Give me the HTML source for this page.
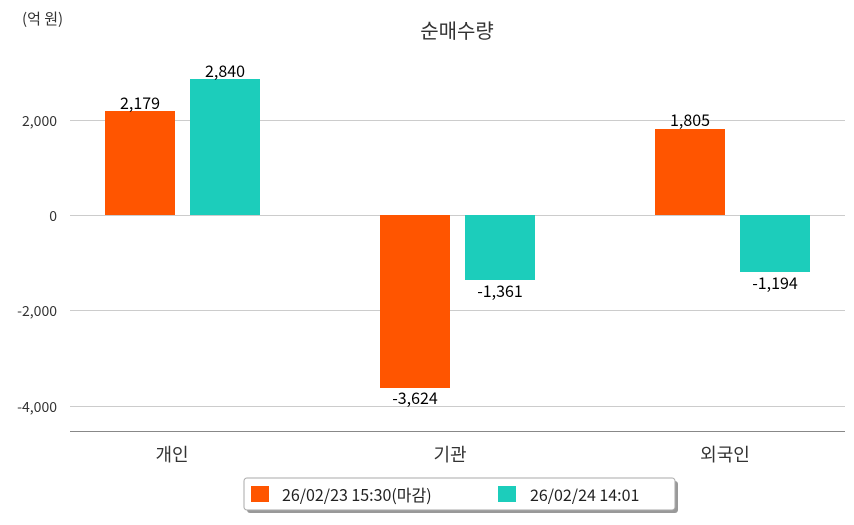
<!DOCTYPE html>
<html><head><meta charset="utf-8"><style>
body{margin:0;width:854px;height:520px;background:#fff;overflow:hidden;font-family:"Noto Sans CJK KR",sans-serif}
</style></head><body>
<svg width="854" height="520" xmlns="http://www.w3.org/2000/svg" font-family="Noto Sans CJK KR, sans-serif">
<text x="22" y="24" font-size="15" fill="#333">(억 원)</text>
<text x="457" y="38" font-size="20" fill="#333" text-anchor="middle">순매수량</text>
<g stroke="#ccc" stroke-width="1">
<line x1="70" y1="120.5" x2="845" y2="120.5"/>
<line x1="70" y1="215.5" x2="845" y2="215.5"/>
<line x1="70" y1="310.5" x2="845" y2="310.5"/>
<line x1="70" y1="406.5" x2="845" y2="406.5"/>
</g>
<line x1="70" y1="431.5" x2="845" y2="431.5" stroke="#888" stroke-width="1"/>
<g font-size="14" fill="#333" text-anchor="end">
<text x="57" y="126">2,000</text>
<text x="57" y="221">0</text>
<text x="57" y="316">-2,000</text>
<text x="57" y="412">-4,000</text>
</g>
<g fill="#ff5500">
<rect x="105" y="111" width="70" height="104"/>
<rect x="380" y="215" width="70" height="173"/>
<rect x="655" y="129" width="70" height="86"/>
</g>
<g fill="#1ccdbb">
<rect x="190" y="79" width="70" height="136"/>
<rect x="465" y="215" width="70" height="65"/>
<rect x="740" y="215" width="70" height="57"/>
</g>
<g font-size="16" fill="#000" text-anchor="middle">
<text x="140" y="109">2,179</text>
<text x="225" y="77">2,840</text>
<text x="415" y="404">-3,624</text>
<text x="500" y="297">-1,361</text>
<text x="690" y="126">1,805</text>
<text x="775" y="289">-1,194</text>
</g>
<g font-size="18" fill="#333" text-anchor="middle">
<text x="172" y="461">개인</text>
<text x="450" y="461">기관</text>
<text x="725" y="461">외국인</text>
</g>
<rect x="247" y="481" width="431" height="32" rx="3" fill="#999"/>
<rect x="244" y="478" width="431" height="32" rx="3" fill="#fff" stroke="#aaa"/>
<rect x="251" y="486" width="18" height="16" fill="#ff5500"/>
<text x="282" y="501" font-size="16" fill="#222">26/02/23 15:30(마감)</text>
<rect x="498" y="486" width="18" height="16" fill="#1ccdbb"/>
<text x="530" y="501" font-size="16" fill="#222">26/02/24 14:01</text>
</svg>
</body></html>
